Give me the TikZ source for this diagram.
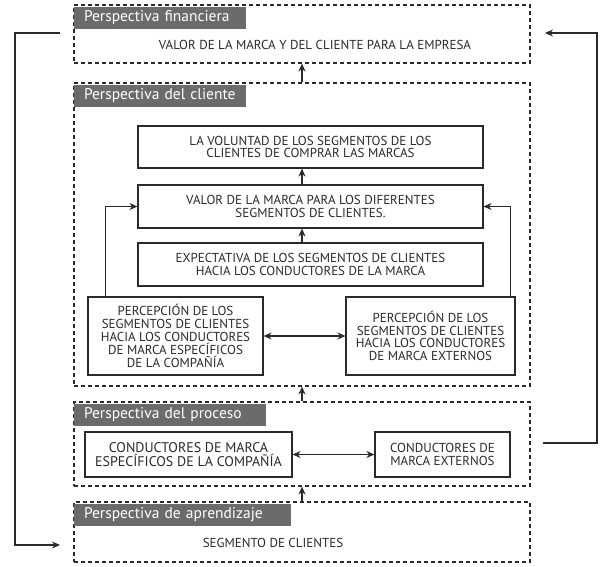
\documentclass[tikz,border=0pt]{standalone}
\usepackage{fontspec}
\setmainfont{PT Sans}
\usetikzlibrary{arrows.meta}
\definecolor{gristab}{HTML}{6B6B6B}
\definecolor{linea}{HTML}{2A2A2A}
\newcommand{\letra}{\fontsize{13}{12.8}\selectfont}
\newcommand{\letrag}{\fontsize{14}{14.3}\selectfont}
\newcommand{\letratab}{\fontsize{15.5}{17}\selectfont}
\tikzset{
  zona/.style={draw=linea, line width=1.1pt, dash pattern=on 4pt off 3pt},
  caja/.style={draw=linea, line width=1.1pt, align=center, inner sep=0pt, font=\letra, text=linea},
  texto/.style={font=\letra, text=linea},
  pestana/.style={fill=gristab, text=white, anchor=north west, font=\letratab,
    minimum height=22pt, inner xsep=10pt, inner ysep=0pt, align=left},
}
\begin{document}
\begin{tikzpicture}[x=1pt,y=-1pt,>={Stealth[length=8pt,width=7pt]},line width=1.1pt,draw=linea]
\useasboundingbox (0,0) rectangle (603,566);
% zonas
\node[zona, minimum width=456pt, minimum height=58pt] (fin) at (302,34) {};
\node[zona, minimum width=456pt, minimum height=303pt] (cli) at (302,234.5) {};
\node[zona, minimum width=456pt, minimum height=84pt] (pro) at (302,444) {};
\node[zona, minimum width=456pt, minimum height=60pt] (apr) at (302,532) {};
\node[pestana, text width=152pt] (finT) at ([yshift=-2pt]fin.north west) {Perspectiva financiera};
\node[pestana, text width=152pt] (cliT) at ([yshift=-2pt]cli.north west) {Perspectiva del cliente};
\node[pestana, text width=172pt] (proT) at ([yshift=-2pt]pro.north west) {Perspectiva del proceso};
\node[pestana, text width=197pt] (aprT) at ([yshift=-2pt]apr.north west) {Perspectiva de aprendizaje};
\node[texto] (finV) at (315,45) {VALOR DE LA MARCA Y DEL CLIENTE PARA LA EMPRESA};
\node[texto] (aprS) at (273,543) {SEGMENTO DE CLIENTES};
% perspectiva del cliente
\node[caja, minimum width=345pt, minimum height=42pt] (vol) at (310.5,147)
  {LA VOLUNTAD DE LOS SEGMENTOS DE LOS\\CLIENTES DE COMPRAR LAS MARCAS};
\node[caja, minimum width=345pt, minimum height=43pt] (valor) at (310.5,206.5)
  {VALOR DE LA MARCA PARA LOS DIFERENTES\\SEGMENTOS DE CLIENTES.};
\node[caja, minimum width=345pt, minimum height=43pt] (expec) at (310.5,264.5)
  {EXPECTATIVA DE LOS SEGMENTOS DE CLIENTES\\HACIA LOS CONDUCTORES DE LA MARCA};
\node[caja, minimum width=175pt, minimum height=78pt] (perIzq) at (175.5,336)
  {PERCEPCIÓN DE LOS\\SEGMENTOS DE CLIENTES\\HACIA LOS CONDUCTORES\\DE MARCA ESPECÍFICOS\\DE LA COMPAÑÍA};
\node[caja, minimum width=169pt, minimum height=78pt] (perDer) at (430.5,336)
  {PERCEPCIÓN DE LOS\\SEGMENTOS DE CLIENTES\\HACIA LOS CONDUCTORES\\DE MARCA EXTERNOS};
% perspectiva del proceso
\node[caja, font=\letrag, minimum width=207pt, minimum height=45pt] (conIzq) at (188.5,454.5)
  {CONDUCTORES DE MARCA\\ESPECÍFICOS DE LA COMPAÑÍA};
\node[caja, minimum width=135pt, minimum height=45pt] (conDer) at (442.5,454.5)
  {CONDUCTORES DE\\MARCA EXTERNOS};
% flechas
\draw[->] (cli.north) -- (fin.south);
\draw[->] (pro.north) -- (cli.south);
\draw[->] (apr.north) -- (pro.south);
\draw[->] (valor.north -| fin.south) -- (vol.south -| fin.south);
\draw[->] (expec.north -| fin.south) -- (valor.south -| fin.south);
\draw[->] ([xshift=18pt]perIzq.north west) |- (valor.west);
\draw[->] ([xshift=-5pt]perDer.north east) |- (valor.east);
\draw[<->] (perIzq) -- (perDer);
\draw[<->] (conIzq) -- (conDer);
% retroalimentacion
\coordinate (izqA) at (60,33);
\coordinate (izqB) at (60,545);
\coordinate (derA) at (543,443);
\coordinate (derB) at (545,33);
\draw[->] (izqA) -- ++(-45,0) |- (izqB);
\draw[->] (derA) -- ++(54,0) |- (derB);
\end{tikzpicture}
\end{document}
